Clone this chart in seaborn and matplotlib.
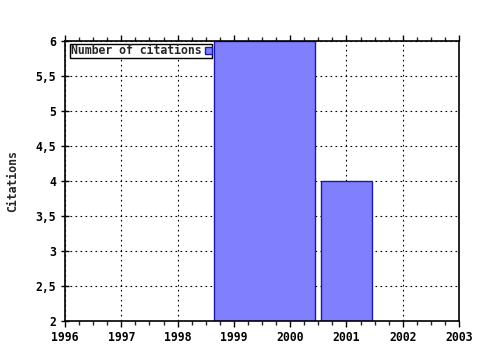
import matplotlib
matplotlib.use("Agg")
import matplotlib.pyplot as plt
import seaborn as sns
import numpy as np
from matplotlib.ticker import MultipleLocator, FuncFormatter

bar_starts = [1998.65, 2000.55]
bar_ends = [2000.45, 2001.45]
citations = [6, 4]
series_label = "Number of citations"
x_ticks = [1996, 1997, 1998, 1999, 2000, 2001, 2002, 2003]
y_ticks = [2, 2.5, 3, 3.5, 4, 4.5, 5, 5.5, 6]

sns.set_style("white")
plt.rcParams['font.family'] = ['DejaVu Sans Mono']
plt.rcParams['font.weight'] = 'bold'

FS = 8.3

fig = plt.figure(figsize=(4.8, 3.5), dpi=100)
ax = fig.add_axes([65/480, 1-321/350, (459-65)/480, (321-41)/350])

widths = np.array(bar_ends) - np.array(bar_starts)
ax.bar(bar_starts, citations, width=widths, align='edge',
       color='#8080ff', edgecolor='#1a1aa0', linewidth=1.0,
       label=series_label, zorder=3)

ax.set_xlim(1996, 2003)
ax.set_ylim(2, 6)
ax.set_xticks(x_ticks)
ax.set_yticks(y_ticks)
ax.xaxis.set_minor_locator(MultipleLocator(0.25))
ax.yaxis.set_major_formatter(FuncFormatter(lambda v, p: (f"{v:g}").replace('.', ',')))
ax.grid(True, which='major', color='black', linestyle=(0, (1.5, 3)), linewidth=0.8, zorder=1)

for s in ax.spines.values():
    s.set_color('black')
    s.set_linewidth(1.2)
    s.set_zorder(5)

ax.tick_params(axis='both', which='major', direction='inout', length=6, width=1,
               labelsize=FS, colors='black', bottom=True, left=True)
ax.tick_params(axis='x', which='minor', direction='out', length=3, width=1,
               bottom=True, top=True)
ax.tick_params(axis='y', which='minor', left=False)
ax.tick_params(axis='x', which='major', top=True, direction='out', length=4, pad=3)
for lab in ax.get_xticklabels() + ax.get_yticklabels():
    lab.set_fontweight('bold')

ax.set_ylabel("Citations", fontsize=FS, fontweight='bold', labelpad=12)

leg = ax.legend(loc='upper left', bbox_to_anchor=(0.008, 0.997), frameon=True,
                fancybox=False, framealpha=1, edgecolor='black',
                prop={'size': FS, 'weight': 'bold', 'family': 'DejaVu Sans Mono'},
                markerfirst=False, handlelength=0.6, handleheight=0.6,
                handletextpad=0.3, borderpad=0.02, borderaxespad=0.2)
leg.get_frame().set_linewidth(1.0)
leg.set_zorder(10)

fig.savefig("out.png", dpi=100)
